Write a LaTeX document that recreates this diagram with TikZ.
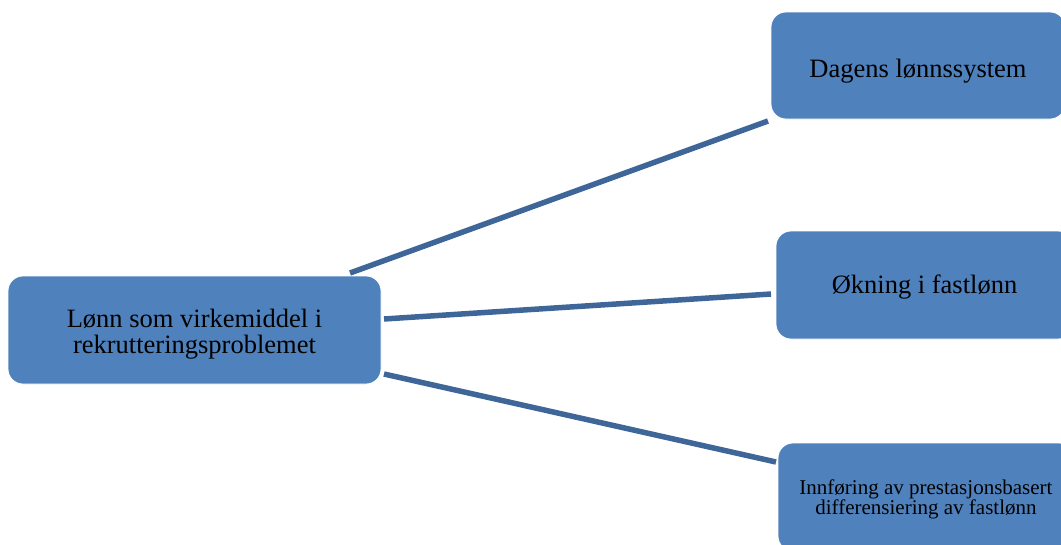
\documentclass[tikz,border=0pt]{standalone}
\usepackage{fontspec}
\setmainfont{Liberation Serif}
\definecolor{boxblue}{HTML}{4F81BD}
\definecolor{linkblue}{HTML}{3F6699}
% lower a line of text without changing its reported size
\newcommand{\lowtext}[2][5pt]{\raisebox{-#1}[\height][\depth]{#2}}
\begin{document}
\begin{tikzpicture}[x=1pt,y=-1pt,
  topic/.style={rectangle, rounded corners=15pt, fill=boxblue, draw=white, line width=0.8pt,
    inner sep=0pt, align=center, text=black},
  bigtext/.style={font=\fontsize{26.5}{26}\selectfont},
  smalltext/.style={font=\fontsize{21}{20}\selectfont},
  link/.style={draw=linkblue, line width=5.5pt}]
\useasboundingbox (0,0) rectangle (1061,544);
% central topic
\node[topic, bigtext, minimum width=373pt, minimum height=108pt] (L) at (194.5,330)
  {\lowtext[4pt]{Lønn som virkemiddel i}\\\lowtext[4pt]{rekrutteringsproblemet}};
% branches
\node[topic, bigtext, minimum width=294pt, minimum height=107pt] (A) at (918,65.5)
  {\lowtext[6pt]{Dagens lønnssystem}};
\node[topic, bigtext, minimum width=297pt, minimum height=108pt] (B) at (924.5,285)
  {\lowtext[2pt]{Økning i fastlønn}};
\node[topic, smalltext, minimum width=296pt, minimum height=108pt] (C) at (926,497)
  {\lowtext[2pt]{Innføring av prestasjonsbasert}\\\lowtext[2pt]{differensiering av fastlønn}};
% connector ends
\coordinate (l1) at (350,273);
\coordinate (l2) at (384,319);
\coordinate (l3) at (384,374);
\coordinate (a1) at (768,121);
\coordinate (b1) at (771,294);
\coordinate (c1) at (776,462);
\draw[link] (l1) -- (a1);
\draw[link] (l2) -- (b1);
\draw[link] (l3) -- (c1);
\end{tikzpicture}
\end{document}
